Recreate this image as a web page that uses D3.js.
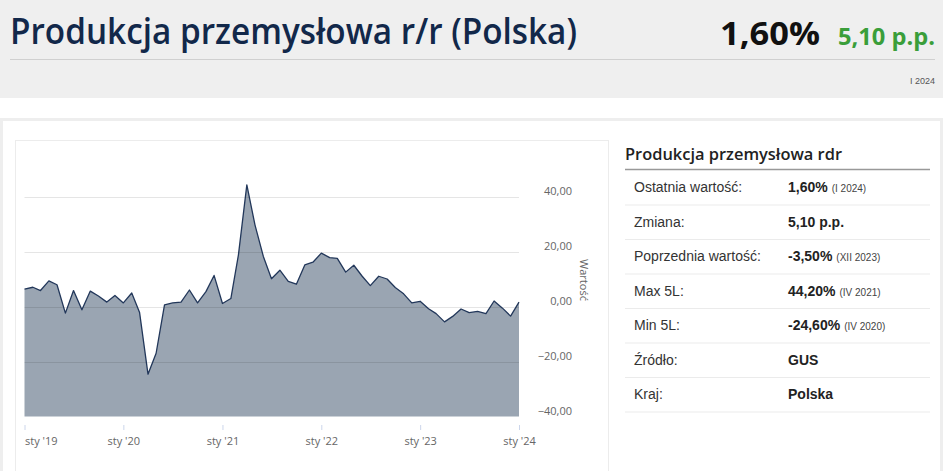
<!DOCTYPE html>
<html>
<head>
<meta charset="utf-8">
<script src="https://d3js.org/d3.v7.min.js"></script>
<style>
  html, body { margin: 0; padding: 0; background: #fff; }
  svg { display: block; }
</style>
</head>
<body>
<div id="chart"></div>
<script>
// dane: produkcja przemyslowa r/r, sty 2019 - sty 2024
const startMonth = new Date(2019, 0, 1)
const values = [
  6.3, 7.0, 5.8, 9.3, 7.9, -2.4, 5.8, -1.2, 5.6, 3.8, 1.6, 4.0,
  1.3, 4.9, -2.2, -24.6, -17.0, 0.6, 1.3, 1.6, 6.0, 1.3, 5.4, 11.3,
  1.1, 2.9, 18.8, 44.2, 29.7, 18.2, 10.1, 13.2, 9.1, 8.1, 15.1, 16.1,
  19.4, 17.8, 17.5, 12.5, 15.0, 11.0, 7.6, 11.0, 10.0, 6.9, 4.6, 1.3,
  1.9, -0.8, -2.6, -5.6, -3.6, -0.9, -2.2, -1.8, -2.6, 2.0, -0.6, -3.5,
  1.6
]
const yTicks = [-40, -20, 0, 20, 40]
const xTickYears = [2019, 2020, 2021, 2022, 2023, 2024]

const tableTitle = 'Produkcja przemysłowa rdr'
const tableLabels = ['Ostatnia wartość:', 'Zmiana:', 'Poprzednia wartość:', 'Max 5L:', 'Min 5L:', 'Źródło:', 'Kraj:']
const tableValues = ['1,60%', '5,10 p.p.', '-3,50%', '44,20%', '-24,60%', 'GUS', 'Polska']
const tableNotes = ['(I 2024)', '', '(XII 2023)', '(IV 2021)', '(IV 2020)', '', '']

const data = values.map((v, i) => ({
  date: new Date(startMonth.getFullYear(), startMonth.getMonth() + i, 1),
  value: v
}))

const W = 948, H = 471
const svg = d3.select('#chart').append('svg')
  .attr('width', W).attr('height', H)

// naglowek
svg.append('rect').attr('x', 0).attr('y', 0).attr('width', 943).attr('height', 98).attr('fill', '#efefef')
svg.append('text')
  .attr('x', 10).attr('y', 44)
  .attr('font-family', 'Open Sans, sans-serif').attr('font-size', 36).attr('font-weight', 600)
  .attr('fill', '#12284a')
  .attr('textLength', 567).attr('lengthAdjust', 'spacingAndGlyphs')
  .text('Produkcja przemysłowa r/r (Polska)')
svg.append('text')
  .attr('x', 720).attr('y', 45)
  .attr('font-family', 'Open Sans, sans-serif').attr('font-size', 33).attr('font-weight', 700)
  .attr('fill', '#111')
  .attr('textLength', 100).attr('lengthAdjust', 'spacingAndGlyphs')
  .text('1,60%')
svg.append('text')
  .attr('x', 838).attr('y', 45)
  .attr('font-family', 'Open Sans, sans-serif').attr('font-size', 23).attr('font-weight', 700)
  .attr('fill', '#3a9e3a')
  .attr('textLength', 97).attr('lengthAdjust', 'spacingAndGlyphs')
  .text('5,10 p.p.')
svg.append('line').attr('x1', 10).attr('x2', 935).attr('y1', 59.5).attr('y2', 59.5).attr('stroke', '#d0d0d0')
svg.append('text')
  .attr('x', 935).attr('y', 84).attr('text-anchor', 'end')
  .attr('font-family', 'Liberation Sans, Arial, sans-serif').attr('font-size', 9).attr('fill', '#555')
  .text('I 2024')

// panel
svg.append('rect').attr('x', 1.5).attr('y', 119.5).attr('width', 940).attr('height', 360)
  .attr('fill', 'none').attr('stroke', '#eeeeee').attr('stroke-width', 3)
svg.append('rect').attr('x', 15.5).attr('y', 140.5).attr('width', 593).attr('height', 340)
  .attr('fill', '#fff').attr('stroke', '#ececec')

// wykres
const x = d3.scaleTime()
  .domain([data[0].date, data[data.length - 1].date])
  .range([24.5, 519])
const y = d3.scaleLinear().domain([-40, 60]).range([416.5, 141.5])

const g = svg.append('g')

const area = d3.area()
  .x(d => x(d.date))
  .y0(y(-40))
  .y1(d => y(d.value))
g.append('path').datum(data).attr('d', area).attr('fill', '#9aa5b2')

g.selectAll('.grid').data(yTicks.filter(t => t > -40)).enter().append('line')
  .attr('x1', 24.5).attr('x2', 519)
  .attr('y1', d => Math.round(y(d)) + 0.5).attr('y2', d => Math.round(y(d)) + 0.5)
  .attr('stroke', '#000').attr('stroke-opacity', 0.1)

const line = d3.line().x(d => x(d.date)).y(d => y(d.value))
g.append('path').datum(data).attr('d', line)
  .attr('fill', 'none').attr('stroke', '#22375a').attr('stroke-width', 1.3).attr('stroke-linejoin', 'round')

// os y (po prawej)
const fmt = v => d3.format('.2f')(v).replace('.', ',').replace('-', '−')
g.selectAll('.ylab').data(yTicks).enter().append('text')
  .attr('x', 572).attr('y', d => y(d) - 2)
  .attr('text-anchor', 'end')
  .attr('font-family', 'Open Sans, sans-serif').attr('font-size', 11).attr('fill', '#666')
  .text(d => fmt(d))
g.append('text')
  .attr('transform', 'translate(580,280) rotate(90)')
  .attr('text-anchor', 'middle')
  .attr('font-family', 'Open Sans, sans-serif').attr('font-size', 11).attr('fill', '#666')
  .text('Wartość')

// os x
const monthShort = ['sty', 'lut', 'mar', 'kwi', 'maj', 'cze', 'lip', 'sie', 'wrz', 'paź', 'lis', 'gru']
const xAxis = d3.axisBottom(x)
  .tickValues(xTickYears.map(yr => new Date(yr, 0, 1)))
  .tickSize(5)
  .tickFormat(d => monthShort[d.getMonth()] + " '" + String(d.getFullYear()).slice(2))
const ax = g.append('g').attr('transform', 'translate(0,425)').call(xAxis)
ax.select('.domain').remove()
ax.selectAll('.tick line').attr('stroke', '#ccd6eb')
ax.selectAll('.tick text')
  .attr('y', 12)
  .attr('font-family', 'Open Sans, sans-serif').attr('font-size', 11).attr('fill', '#666')
  .attr('text-anchor', (d, i) => i === 0 ? 'start' : 'middle')
</script>
<script>
// tabela
const rowH = 34.5
svg.append('text')
  .attr('x', 625).attr('y', 160)
  .attr('font-family', 'Open Sans, sans-serif').attr('font-size', 17).attr('font-weight', 600)
  .attr('fill', '#222')
  .attr('textLength', 217).attr('lengthAdjust', 'spacingAndGlyphs')
  .text(tableTitle)
svg.append('line').attr('x1', 625).attr('x2', 930).attr('y1', 169.5).attr('y2', 169.5)
  .attr('stroke', '#999').attr('stroke-width', 1.5)

const rows = svg.append('g').selectAll('g').data(tableLabels).enter().append('g')
  .attr('transform', (d, i) => `translate(0,${170 + i * rowH})`)
rows.append('line').attr('x1', 625).attr('x2', 930)
  .attr('y1', rowH + 0.5).attr('y2', rowH + 0.5).attr('stroke', '#ebebeb')
rows.append('text')
  .attr('x', 634).attr('y', 22)
  .attr('font-family', 'Liberation Sans, Arial, sans-serif').attr('font-size', 14).attr('fill', '#333')
  .text(d => d)
const vt = rows.append('text')
  .attr('x', 788).attr('y', 22)
  .attr('font-family', 'Liberation Sans, Arial, sans-serif').attr('fill', '#222')
vt.append('tspan').attr('font-size', 14).attr('font-weight', 700).text((d, i) => tableValues[i])
vt.append('tspan').attr('font-size', 10).attr('fill', '#444').attr('dx', 4).text((d, i) => tableNotes[i])
</script>
</body>
</html>
